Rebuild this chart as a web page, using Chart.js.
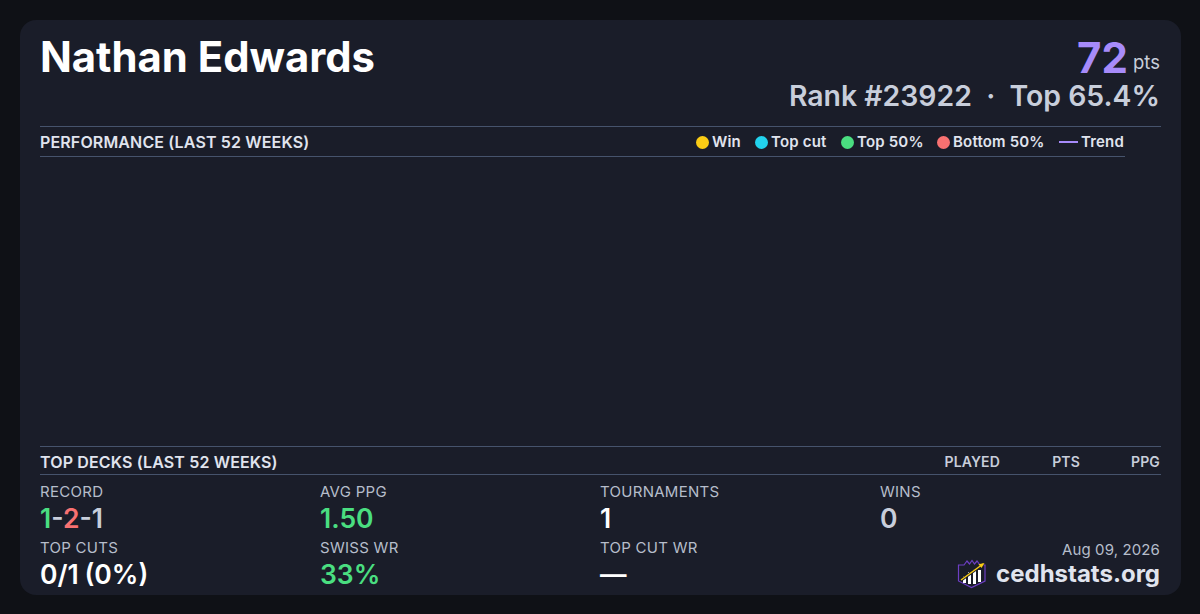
<!DOCTYPE html>
<html><head><meta charset="utf-8">
<script src="https://cdn.jsdelivr.net/npm/chart.js@4"></script>
<style>
*{margin:0;padding:0;box-sizing:border-box}
html,body{width:1200px;height:614px;overflow:hidden;background:#0f1116;font-family:Inter,sans-serif}
#card{position:absolute;left:20px;top:20px;width:1161px;height:575px;background:#1a1d29;border-radius:16px}
.t{position:absolute;white-space:nowrap;line-height:1}
.r{text-align:right}
.line{position:absolute;height:1px;background:#46536c}
.lab{font-size:15px;color:#b6bdcb;font-weight:400;letter-spacing:.28px}
.val{font-size:26.5px;font-weight:600}
.sec{font-size:16px;font-weight:600;color:#e0e4ee;letter-spacing:.14px}
.col{font-size:14px;font-weight:600;color:#c8cedb;letter-spacing:.15px}
#cw{position:absolute;left:40px;top:157px;width:1085px;height:289px}
.leg{position:absolute;top:134px;font-size:15px;font-weight:600;color:#e0e4ee;line-height:16px;white-space:nowrap;letter-spacing:.18px}
.dot{position:absolute;top:136px;width:13px;height:13px;border-radius:50%}
.dash{position:absolute;top:141px;width:19px;height:2px;background:#a78bfa}
</style></head><body>
<div id="card"></div>
<div class="t" style="left:40px;top:37px;font-size:41.8px;font-weight:700;color:#fff">Nathan Edwards</div>
<div class="t r" style="right:73px;top:37px;font-size:42px;font-weight:700;color:#a78bfa;transform:translateX(1px)">72</div>
<div class="t r" style="right:40px;top:53px;font-size:18.5px;color:#c8cedb">pts</div>
<div class="t r" style="right:40px;top:82px;font-size:28.4px;font-weight:600;color:#c8cedb">Rank #23922&nbsp; ·&nbsp; Top 65.4%</div>
<div class="line" style="left:40px;top:126px;width:1121px"></div>
<div class="line" style="left:40px;top:156px;width:1085px"></div>
<div class="t sec" style="left:40px;top:134px">PERFORMANCE (LAST 52 WEEKS)</div>
<div id="legend"></div>
<div id="cw"><canvas id="c"></canvas></div>
<div class="line" style="left:40px;top:446px;width:1121px"></div>
<div class="line" style="left:40px;top:474px;width:1121px"></div>
<div class="t sec" style="left:40px;top:454px">TOP DECKS (LAST 52 WEEKS)</div>
<div class="t col r" style="right:200px;top:455px">PLAYED</div>
<div class="t col r" style="right:120px;top:455px">PTS</div>
<div class="t col r" style="right:40px;top:455px">PPG</div>

<div class="t lab" style="left:40px;top:484px">RECORD</div>
<div class="t val" style="left:40px;top:505px;color:#c8cedb"><span style="color:#4ade80">1</span>-<span style="color:#f87171">2</span>-1</div>
<div class="t lab" style="left:320px;top:484px">AVG PPG</div>
<div class="t val" style="left:320px;top:505px;color:#4ade80">1.50</div>
<div class="t lab" style="left:600px;top:484px">TOURNAMENTS</div>
<div class="t val" style="left:600px;top:505px;color:#fff">1</div>
<div class="t lab" style="left:880px;top:484px">WINS</div>
<div class="t val" style="left:880px;top:505px;color:#c8cedb">0</div>
<div class="t lab" style="left:40px;top:540px">TOP CUTS</div>
<div class="t val" style="left:40px;top:561px;color:#fff;word-spacing:-1px">0/1 (0%)</div>
<div class="t lab" style="left:320px;top:540px">SWISS WR</div>
<div class="t val" style="left:320px;top:561px;color:#4ade80">33%</div>
<div class="t lab" style="left:600px;top:540px">TOP CUT WR</div>
<div class="t val" style="left:600px;top:561px;color:#fff">—</div>
<div class="t r" style="right:40px;top:542px;font-size:15px;color:#b6bdcb;letter-spacing:.12px">Aug 09, 2026</div>
<div class="t r" style="right:40px;top:562px;font-size:24px;font-weight:700;color:#e0e4ee">cedhstats.org</div>
<svg style="position:absolute;left:957px;top:559px" width="30" height="30" viewBox="0 0 30 30">
<path d="M1.5 6 L7 6 L10 2 L12.5 5 L15 1.5 L17.5 5 L20 2 L23 6 L28 6 L28 22 L14.5 28.5 L1.5 22 Z" fill="#1a1d29" stroke="#6d3fc4" stroke-width="1.2"/>
<rect x="6" y="17" width="3" height="7" fill="#fff"/><rect x="11" y="13" width="3" height="12" fill="#fff"/><rect x="16" y="10" width="3" height="15" fill="#fff"/><rect x="21" y="11" width="3" height="12" fill="#fff"/>
<path d="M4 21 L26 5" stroke="#1a1d29" stroke-width="3.2"/><path d="M4 21 L26 5" stroke="#facc15" stroke-width="1.4"/><path d="M27.5 4 L21.5 5.2 L24.5 9 Z" fill="#facc15"/>
</svg>
<script>
const weeks = [];
const winValues = [];
const topCutValues = [];
const top50Values = [];
const bottom50Values = [];
const trendValues = [];
const names = ['Win','Top cut','Top 50%','Bottom 50%','Trend'];
const colors = ['#facc15','#22d3ee','#4ade80','#f87171','#a78bfa'];
const series = [winValues,topCutValues,top50Values,bottom50Values,trendValues];
const legX = [[696,712],[755,771],[841,857],[937,953],[1059,1081]];

const lg = document.getElementById('legend');
names.forEach((n,i)=>{
  const m = document.createElement('div');
  m.className = i===4 ? 'dash' : 'dot';
  m.style.left = legX[i][0]+'px';
  m.style.background = colors[i];
  lg.appendChild(m);
  const s = document.createElement('div');
  s.className = 'leg';
  s.style.left = legX[i][1]+'px';
  s.textContent = n;
  lg.appendChild(s);
});
new Chart(document.getElementById('c'),{
  type:'scatter',
  data:{labels:weeks,datasets:names.map((n,i)=>({
    type:i===4?'line':'scatter',label:n,data:series[i],
    backgroundColor:colors[i],borderColor:colors[i]}))},
  options:{responsive:true,maintainAspectRatio:false,animation:false,
    plugins:{legend:{display:false},tooltip:{enabled:false}},
    scales:{x:{display:false},y:{display:false}}}
});
</script>
</body></html>
